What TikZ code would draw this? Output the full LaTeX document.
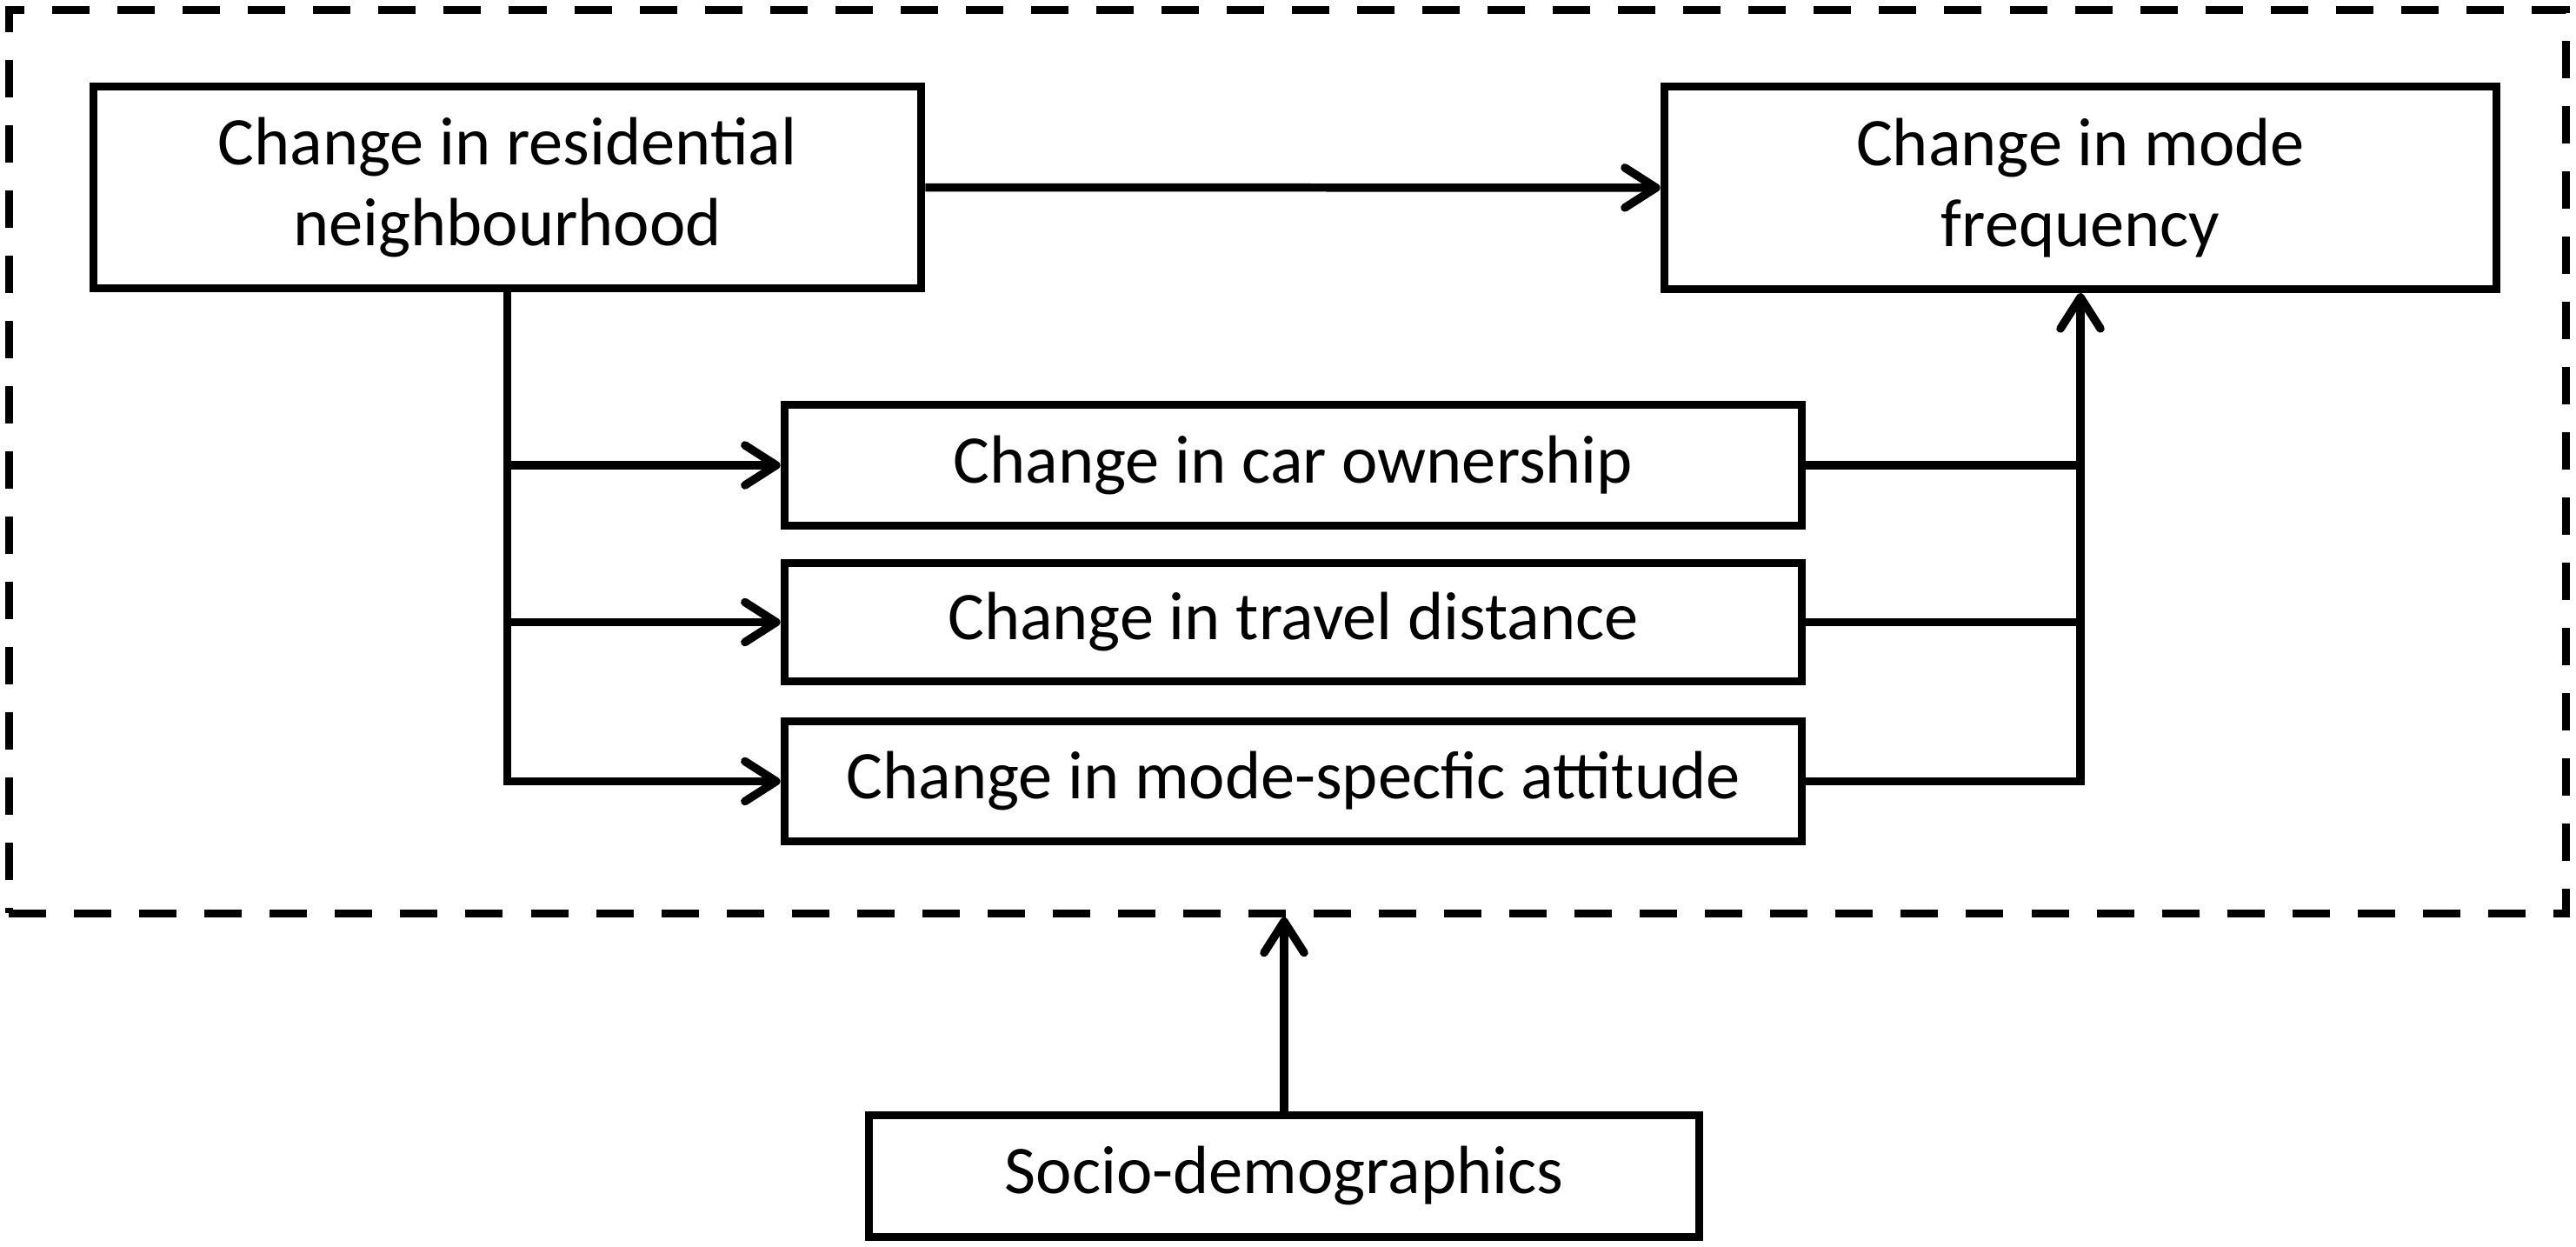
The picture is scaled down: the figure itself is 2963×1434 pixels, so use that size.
\documentclass[tikz,border=0pt]{standalone}
\usepackage{fontspec}
\setmainfont{Carlito}
\usetikzlibrary{arrows.meta}
\begin{document}
\begin{tikzpicture}[x=0.01cm,y=-0.01cm,
  box/.style={draw, line width=2.6pt, inner sep=0pt, align=center, font=\fontsize{22.3}{26.5}\selectfont},
  conn/.style={line width=2.7pt},
  arr/.style={conn, -{Straight Barb[length=0.36cm,width=0.46cm,line cap=round,line join=round]}},
  frame/.style={draw, dash pattern=on 0.43cm off 0.32cm, line width=2.6pt, inner sep=0pt}]
\useasboundingbox (0,0) rectangle (2963,1434);
\node[frame, minimum width=29.40cm, minimum height=10.38cm] (frm) at (1481,531) {};
\node[box, minimum width=9.52cm, minimum height=2.32cm] (A) at (583.5,215.5) {Change in residential\\neighbourhood};
\node[box, minimum width=9.57cm, minimum height=2.33cm] (F) at (2393,216) {Change in mode\\frequency};
\node[box, minimum width=11.70cm, minimum height=1.39cm] (car) at (1487.5,535) {Change in car ownership};
\node[box, minimum width=11.70cm, minimum height=1.36cm] (trv) at (1487.5,715.5) {Change in travel distance};
\node[box, minimum width=11.70cm, minimum height=1.38cm] (att) at (1487.5,898.5) {Change in mode-specfic attitude};
\node[box, minimum width=9.55cm, minimum height=1.40cm] (soc) at (1477,1352.5) {Socio-demographics};
\draw[arr] (A) -- (F);
\draw[arr] (A.south) |- (att.west);
\draw[arr] (A.south |- car.west) -- (car.west);
\draw[arr] (A.south |- trv.west) -- (trv.west);
\draw[arr] (att.east) -| (F.south);
\draw[conn] (car.east) -- (car.east -| F.south);
\draw[conn] (trv.east) -- (trv.east -| F.south);
\draw[arr] (soc.north) -- (soc.north |- frm.south);
\end{tikzpicture}
\end{document}
